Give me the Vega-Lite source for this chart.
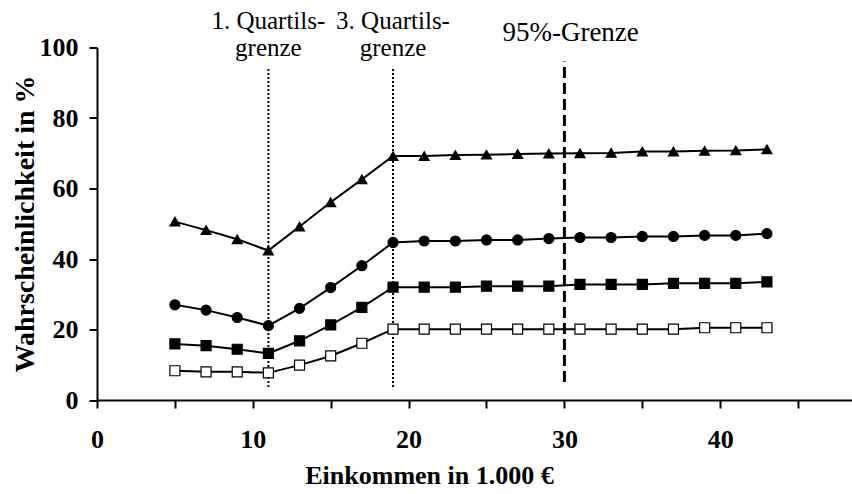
{
  "$schema": "https://vega.github.io/schema/vega-lite/v6.json",
  "width": 755,
  "height": 352.5,
  "autosize": {"type": "none"},
  "padding": {"left": 97, "top": 47.5, "right": 0, "bottom": 94},
  "background": "white",
  "config": {
    "view": {"stroke": null},
    "font": "Liberation Serif",
    "axis": {
      "grid": false,
      "domainColor": "black",
      "domainWidth": 2,
      "tickColor": "black",
      "tickWidth": 2,
      "tickSize": 8,
      "labelFont": "Liberation Serif",
      "labelFontWeight": "bold",
      "labelFontSize": 26,
      "labelColor": "black",
      "titleFont": "Liberation Serif",
      "titleFontWeight": "bold",
      "titleFontSize": 26,
      "titleColor": "black"
    }
  },
  "datasets": {
    "series": [
      {"s": "A", "x": 5, "y": 50.6}, {"s": "A", "x": 7, "y": 48.2}, {"s": "A", "x": 9, "y": 45.6}, {"s": "A", "x": 11, "y": 42.4},
      {"s": "A", "x": 13, "y": 49.2}, {"s": "A", "x": 15, "y": 56.1}, {"s": "A", "x": 17, "y": 62.6}, {"s": "A", "x": 19, "y": 69.2},
      {"s": "A", "x": 21, "y": 69.2}, {"s": "A", "x": 23, "y": 69.5}, {"s": "A", "x": 25, "y": 69.6}, {"s": "A", "x": 27, "y": 69.8},
      {"s": "A", "x": 29, "y": 69.9}, {"s": "A", "x": 31, "y": 70.0}, {"s": "A", "x": 33, "y": 70.1}, {"s": "A", "x": 35, "y": 70.5},
      {"s": "A", "x": 37, "y": 70.5}, {"s": "A", "x": 39, "y": 70.7}, {"s": "A", "x": 41, "y": 70.8}, {"s": "A", "x": 43, "y": 71.1},
      {"s": "B", "x": 5, "y": 27.0}, {"s": "B", "x": 7, "y": 25.5}, {"s": "B", "x": 9, "y": 23.4}, {"s": "B", "x": 11, "y": 21.1},
      {"s": "B", "x": 13, "y": 26.0}, {"s": "B", "x": 15, "y": 31.9}, {"s": "B", "x": 17, "y": 38.1}, {"s": "B", "x": 19, "y": 44.7},
      {"s": "B", "x": 21, "y": 45.1}, {"s": "B", "x": 23, "y": 45.1}, {"s": "B", "x": 25, "y": 45.4}, {"s": "B", "x": 27, "y": 45.4},
      {"s": "B", "x": 29, "y": 45.8}, {"s": "B", "x": 31, "y": 46.1}, {"s": "B", "x": 33, "y": 46.1}, {"s": "B", "x": 35, "y": 46.4},
      {"s": "B", "x": 37, "y": 46.4}, {"s": "B", "x": 39, "y": 46.7}, {"s": "B", "x": 41, "y": 46.7}, {"s": "B", "x": 43, "y": 47.2},
      {"s": "C", "x": 5, "y": 15.9}, {"s": "C", "x": 7, "y": 15.4}, {"s": "C", "x": 9, "y": 14.4}, {"s": "C", "x": 11, "y": 13.2},
      {"s": "C", "x": 13, "y": 16.8}, {"s": "C", "x": 15, "y": 21.3}, {"s": "C", "x": 17, "y": 26.3}, {"s": "C", "x": 19, "y": 32.0},
      {"s": "C", "x": 21, "y": 32.0}, {"s": "C", "x": 23, "y": 32.0}, {"s": "C", "x": 25, "y": 32.3}, {"s": "C", "x": 27, "y": 32.3},
      {"s": "C", "x": 29, "y": 32.3}, {"s": "C", "x": 31, "y": 32.8}, {"s": "C", "x": 33, "y": 32.8}, {"s": "C", "x": 35, "y": 32.8},
      {"s": "C", "x": 37, "y": 33.1}, {"s": "C", "x": 39, "y": 33.1}, {"s": "C", "x": 41, "y": 33.1}, {"s": "C", "x": 43, "y": 33.5},
      {"s": "D", "x": 5, "y": 8.3}, {"s": "D", "x": 7, "y": 8.0}, {"s": "D", "x": 9, "y": 8.0}, {"s": "D", "x": 11, "y": 7.7},
      {"s": "D", "x": 13, "y": 9.9}, {"s": "D", "x": 15, "y": 12.5}, {"s": "D", "x": 17, "y": 16.1}, {"s": "D", "x": 19, "y": 20.1},
      {"s": "D", "x": 21, "y": 20.1}, {"s": "D", "x": 23, "y": 20.1}, {"s": "D", "x": 25, "y": 20.1}, {"s": "D", "x": 27, "y": 20.1},
      {"s": "D", "x": 29, "y": 20.1}, {"s": "D", "x": 31, "y": 20.1}, {"s": "D", "x": 33, "y": 20.1}, {"s": "D", "x": 35, "y": 20.1},
      {"s": "D", "x": 37, "y": 20.1}, {"s": "D", "x": 39, "y": 20.5}, {"s": "D", "x": 41, "y": 20.5}, {"s": "D", "x": 43, "y": 20.5}
    ],
    "quartiles": [
      {"x": 11, "y": 3.7, "y2": 94.3},
      {"x": 19, "y": 3.7, "y2": 94.3}
    ],
    "p95": [
      {"x": 30, "y": 5.1, "y2": 96}
    ],
    "labels": [
      {"x": 11, "y": 105.2, "text": "1. Quartils-\ngrenze"},
      {"x": 19, "y": 105.2, "text": "3. Quartils-\ngrenze"}
    ],
    "label95": [
      {"x": 30.4, "y": 101.8, "text": "95%-Grenze"}
    ]
  },
  "encoding": {
    "x": {
      "field": "x",
      "type": "quantitative",
      "scale": {"domain": [0, 48.46], "nice": false, "zero": false},
      "axis": {
        "title": "Einkommen in 1.000 €",
        "values": [0, 5, 10, 15, 20, 25, 30, 35, 40, 45],
        "labelExpr": "datum.value % 10 === 0 ? datum.label : ''",
        "labelBaseline": "alphabetic",
        "labelPadding": 39,
        "labelFlush": false,
        "titleX": 332,
        "titleY": 83,
        "titleBaseline": "alphabetic",
        "titleAnchor": null,
        "titleAlign": "center"
      }
    },
    "y": {
      "field": "y",
      "type": "quantitative",
      "scale": {"domain": [0, 100], "nice": false},
      "axis": {
        "title": "Wahrscheinlichkeit in %",
        "values": [0, 20, 40, 60, 80, 100],
        "labelPadding": 11,
        "labelFlush": false,
        "titleFontSize": 28,
        "titleAngle": -90,
        "titleX": -64,
        "titleY": 176,
        "titleBaseline": "alphabetic",
        "titleAlign": "center"
      }
    }
  },
  "layer": [
    {
      "data": {"name": "quartiles"},
      "mark": {"type": "rule", "color": "black", "strokeWidth": 2, "strokeDash": [2, 2]},
      "encoding": {"y2": {"field": "y2"}}
    },
    {
      "data": {"name": "p95"},
      "mark": {"type": "rule", "color": "black", "strokeWidth": 3, "strokeDash": [11, 5]},
      "encoding": {"y2": {"field": "y2"}}
    },
    {
      "data": {"name": "series"},
      "mark": {"type": "line", "color": "black", "strokeWidth": 2},
      "encoding": {"detail": {"field": "s"}}
    },
    {
      "data": {"name": "series"},
      "mark": {"type": "point", "filled": true, "stroke": "black", "strokeWidth": 1.2, "opacity": 1, "size": 100},
      "encoding": {
        "shape": {"field": "s", "type": "nominal", "scale": {"domain": ["A", "B", "C", "D"], "range": ["triangle-up", "circle", "square", "square"]}, "legend": null},
        "fill": {"field": "s", "type": "nominal", "scale": {"domain": ["A", "B", "C", "D"], "range": ["black", "black", "black", "white"]}, "legend": null}
      }
    },
    {
      "data": {"name": "labels"},
      "mark": {"type": "text", "font": "Liberation Serif", "fontSize": 25, "color": "black", "align": "center", "baseline": "alphabetic", "lineBreak": "\n", "lineHeight": 27},
      "encoding": {"text": {"field": "text"}}
    },
    {
      "data": {"name": "label95"},
      "mark": {"type": "text", "font": "Liberation Serif", "fontSize": 27, "color": "black", "align": "center", "baseline": "alphabetic"},
      "encoding": {"text": {"field": "text"}}
    }
  ]
}
